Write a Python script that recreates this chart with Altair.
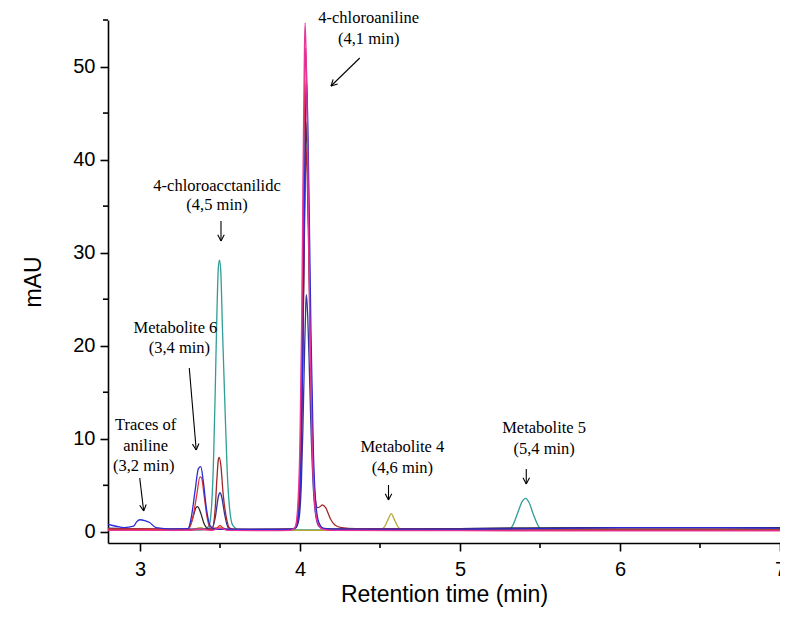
import math
import altair as alt
import pandas as pd

# ---------------- data ----------------
teal_t = [2.8, 3.0, 3.2, 3.35, 3.40, 3.43, 3.445, 3.46, 3.47, 3.48, 3.49, 3.497, 3.505, 3.515, 3.53, 3.545, 3.56, 3.58, 3.62, 3.8,
          4.0, 4.2, 4.6, 5.0, 5.30, 5.33, 5.36, 5.39, 5.41, 5.43, 5.46, 5.49, 5.52, 5.6, 6.0, 6.5, 7.0]
teal_v = [0.25, 0.25, 0.2, 0.2, 0.25, 0.6, 2.2, 8, 15, 23, 28.5, 29.2, 28, 22, 14, 6.5, 2.5, 0.7, 0.25, 0.2,
          0.2, 0.2, 0.2, 0.2, 0.2, 0.7, 2.0, 3.3, 3.6, 3.2, 1.8, 0.6, 0.2, 0.2, 0.25, 0.25, 0.25]

olive_t = [2.8, 3.3, 3.36, 3.38, 3.42, 3.47, 3.5, 3.53, 3.6, 4.0, 4.2, 4.5, 4.53, 4.555, 4.57, 4.585, 4.61, 4.64, 5.0, 6.0, 7.0]
olive_v = [0.15, 0.15, 0.4, 0.45, 0.2, 0.35, 0.5, 0.3, 0.15, 0.15, 0.15, 0.2, 0.6, 1.5, 1.95, 1.5, 0.6, 0.2, 0.15, 0.15, 0.15]

magenta_t = [2.8, 3.3, 3.38, 3.45, 3.5, 3.55, 3.8, 3.94, 3.97, 3.985, 4.0, 4.01, 4.02, 4.028, 4.032, 4.04, 4.05, 4.06, 4.075,
             4.09, 4.11, 4.14, 4.2, 5.0, 6.0, 7.0]
magenta_v = [0.15, 0.15, 0.3, 0.15, 0.4, 0.15, 0.12, 0.15, 0.5, 2.5, 10, 22, 40, 52, 54.7, 50, 38, 24, 10,
             3.5, 1.0, 0.3, 0.15, 0.12, 0.1, 0.1]

red_t = [2.8, 3.0, 3.2, 3.30, 3.33, 3.355, 3.375, 3.385, 3.40, 3.42, 3.44, 3.48, 3.5, 3.52, 3.56, 3.8, 3.94, 3.97, 3.988,
         4.003, 4.013, 4.023, 4.031, 4.035, 4.043, 4.053, 4.063, 4.078, 4.093, 4.113, 4.14, 4.2, 5.0, 6.0, 7.0]
red_v = [0.3, 0.3, 0.25, 0.3, 1.5, 4.0, 5.9, 5.8, 4.0, 1.5, 0.4, 0.4, 0.7, 0.4, 0.2, 0.2, 0.2, 0.5, 2.4,
         9.5, 21, 38, 49.5, 52, 47.5, 36, 23, 9.5, 3.3, 1.0, 0.35, 0.2, 0.15, 0.15, 0.15]

blue_t = [2.8, 2.85, 2.9, 2.96, 2.98, 3.0, 3.03, 3.06, 3.1, 3.2, 3.3, 3.32, 3.345, 3.365, 3.38, 3.395, 3.415, 3.44, 3.47, 3.5,
          3.6, 3.8, 3.95, 3.975, 3.993, 4.008, 4.018, 4.028, 4.036, 4.04, 4.048, 4.058, 4.068, 4.083, 4.098, 4.118, 4.145,
          4.2, 4.6, 5.0, 5.5, 6.0, 6.5, 7.0]
blue_v = [0.8, 0.6, 0.45, 0.6, 1.1, 1.3, 1.2, 1.0, 0.45, 0.3, 0.35, 1.5, 4.5, 6.8, 7.0, 5.5, 2.5, 0.6, 0.3, 0.3,
          0.25, 0.25, 0.3, 0.5, 2.2, 9, 20, 36, 46, 48.7, 44.5, 34, 22, 9, 3.2, 1.0, 0.4,
          0.3, 0.3, 0.3, 0.35, 0.45, 0.45, 0.4]

navy_t = [2.8, 3.2, 3.4, 3.45, 3.47, 3.49, 3.5, 3.51, 3.53, 3.55, 3.58, 3.8, 3.95, 3.975, 3.993, 4.008, 4.018, 4.028, 4.036,
          4.04, 4.048, 4.058, 4.068, 4.083, 4.098, 4.118, 4.145, 4.2, 5.0, 6.0, 7.0]
navy_v = [0.4, 0.3, 0.3, 0.35, 1.5, 3.8, 4.2, 3.8, 1.8, 0.5, 0.25, 0.25, 0.3, 0.45, 1.3, 5, 11, 19, 24.3,
          25.5, 23.3, 17.8, 11.5, 4.8, 1.8, 0.6, 0.35, 0.3, 0.35, 0.45, 0.45]

black_t = [2.8, 3.2, 3.3, 3.33, 3.35, 3.36, 3.38, 3.40, 3.43, 3.6, 3.95, 3.975, 3.991, 4.006, 4.016, 4.026, 4.034, 4.038,
           4.046, 4.056, 4.066, 4.081, 4.096, 4.116, 4.145, 4.2, 5.0, 6.0, 7.0]
black_v = [0.3, 0.3, 0.3, 1.5, 2.6, 2.7, 2.0, 0.9, 0.3, 0.25, 0.3, 0.5, 2.0, 8, 18, 32, 41.5, 44,
           40, 30.5, 19.5, 8, 2.9, 0.9, 0.35, 0.3, 0.35, 0.45, 0.45]

brown_t = [2.8, 3.2, 3.4, 3.45, 3.47, 3.48, 3.49, 3.495, 3.505, 3.52, 3.54, 3.56, 3.6, 3.95, 3.975, 3.991, 4.006, 4.016,
           4.026, 4.034, 4.038, 4.046, 4.056, 4.066, 4.081, 4.096, 4.11, 4.125, 4.14, 4.16, 4.19, 4.22, 4.26, 4.35,
           5.0, 6.0, 7.0]
brown_v = [0.3, 0.25, 0.25, 0.3, 2.5, 5.5, 7.8, 8.0, 7.2, 4.0, 1.5, 0.4, 0.25, 0.3, 0.5, 1.9, 7.5, 17,
           30, 39, 41.3, 37.5, 28.5, 18.5, 8, 3.5, 2.6, 2.7, 2.9, 2.6, 1.4, 0.7, 0.45, 0.35,
           0.3, 0.3, 0.3]

x_ticks = [3, 4, 5, 6, 7]
x_minor = [3.5, 4.5, 5.5, 6.5]
y_ticks = [0, 10, 20, 30, 40, 50]
y_minor = [5, 15, 25, 35, 45, 55]

ann_text = ["4-chloroaniline", "(4,1 min)", "4-chloroacctanilidc", "(4,5 min)", "Metabolite 6", "(3,4 min)",
            "Traces of", "aniline", "(3,2 min)", "Metabolite 4", "(4,6 min)", "Metabolite 5", "(5,4 min)"]
# annotation anchor positions (reference page pixels)
ann_px = [371, 371, 218, 218, 176, 180, 146, 146, 144, 405, 405, 548, 548]
ann_py = [18, 39, 186, 205, 328, 348, 425, 446, 466, 447, 468, 428, 449]
arrows_px = [(362, 58, 333, 86), (222, 221, 222, 241), (190, 368, 197, 450),
             (140, 478, 144, 511), (391, 485, 391, 500), (530, 469, 530, 484)]

# ---------------- layout ----------------
X0, X1 = 2.8, 7.0
Y0, Y1 = -1.2, 55.0
W, H = 672, 523
LEFT, TOP = 108, 20  # page position of plot area
REF_W = 678          # plot width in the reference picture


def tx(px):
    return X0 + (px - LEFT) / REF_W * (X1 - X0)


def vy(py):
    return Y1 - (py - TOP) / H * (Y1 - Y0)


xs = alt.Scale(domain=[X0, X1], nice=False, zero=False)
ys = alt.Scale(domain=[Y0, Y1], nice=False, zero=False)

FONT = "Liberation Sans"
SERIF = "Liberation Serif, Times New Roman, serif"


def x_axis():
    return alt.Axis(values=x_ticks, format="d", title="Retention time (min)", grid=False,
                    domainColor="black", domainWidth=1.6, tickColor="black", tickWidth=1.6, tickSize=8,
                    labelFont=FONT, labelFontSize=20, labelColor="black", labelPadding=8, labelFlush=False,
                    labelOverlap=False, titleFont=FONT, titleFontSize=23, titleFontWeight="normal",
                    titleColor="black", titlePadding=4)


def y_axis():
    return alt.Axis(values=y_ticks, format="d", title="mAU", grid=False,
                    domainColor="black", domainWidth=1.6, tickColor="black", tickWidth=1.6, tickSize=8,
                    labelFont=FONT, labelFontSize=20, labelColor="black", labelPadding=5,
                    labelOverlap=False, titleFont=FONT, titleFontSize=23, titleFontWeight="normal",
                    titleColor="black", titlePadding=27)


def X(field):
    return alt.X(field, scale=xs, axis=x_axis())


def Y(field):
    return alt.Y(field, scale=ys, axis=y_axis())


traces = [
    ("teal", teal_t, teal_v, "#2f9e96"),
    ("olive", olive_t, olive_v, "#b8a637"),
    ("navy", navy_t, navy_v, "#34349a"),
    ("black", black_t, black_v, "#2a2a2a"),
    ("brown", brown_t, brown_v, "#a0282a"),
    ("red", red_t, red_v, "#e33030"),
    ("blue", blue_t, blue_v, "#2b2bd6"),
    ("magenta", magenta_t, magenta_v, "#e8359c"),
]

layers = []
for name, ts, vs, col in traces:
    df = pd.DataFrame({"t": ts, "v": vs})
    layers.append(alt.Chart(df).mark_line(color=col, strokeWidth=1.3, interpolate="monotone")
                  .encode(x=X("t:Q"), y=Y("v:Q")))

# minor ticks
layers.append(alt.Chart(pd.DataFrame({"m": y_minor})).mark_rule(color="black", strokeWidth=1.6)
              .encode(y=Y("m:Q"), x=alt.value(-5), x2=alt.value(0)))
layers.append(alt.Chart(pd.DataFrame({"m": x_minor})).mark_rule(color="black", strokeWidth=1.6)
              .encode(x=X("m:Q"), y=alt.value(H), y2=alt.value(H + 5)))

# annotation text
ann = pd.DataFrame({"label": ann_text, "x": [tx(p) for p in ann_px], "y": [vy(p) for p in ann_py]})
layers.append(alt.Chart(ann).mark_text(font=SERIF, fontSize=16.5, color="black",
                                       align="center", baseline="middle")
              .encode(x=X("x:Q"), y=Y("y:Q"), text="label:N"))

# arrows
segs = []
HEAD, ANG = 7.0, math.radians(28)
for (x1, y1, x2, y2) in arrows_px:
    segs.append((x1, y1, x2, y2))
    dx, dy = x1 - x2, y1 - y2
    n = math.hypot(dx, dy)
    ux, uy = dx / n, dy / n
    for s in (1, -1):
        c, si = math.cos(s * ANG), math.sin(s * ANG)
        hx, hy = ux * c - uy * si, ux * si + uy * c
        segs.append((x2, y2, x2 + HEAD * hx, y2 + HEAD * hy))
seg_df = pd.DataFrame({"x": [tx(s[0]) for s in segs], "y": [vy(s[1]) for s in segs],
                       "x2": [tx(s[2]) for s in segs], "y2": [vy(s[3]) for s in segs]})
layers.append(alt.Chart(seg_df).mark_rule(color="black", strokeWidth=1.1)
              .encode(x=X("x:Q"), y=Y("y:Q"), x2="x2:Q", y2="y2:Q"))

chart = (alt.layer(*layers)
         .properties(width=W, height=H, autosize=alt.AutoSizeParams(type="none"),
                     padding={"left": LEFT - 8, "top": TOP - 8, "right": 0, "bottom": 66},
                     background="white")
         .configure_view(stroke=None))

chart.save("out.html", embed_options={"renderer": "svg", "actions": False})
